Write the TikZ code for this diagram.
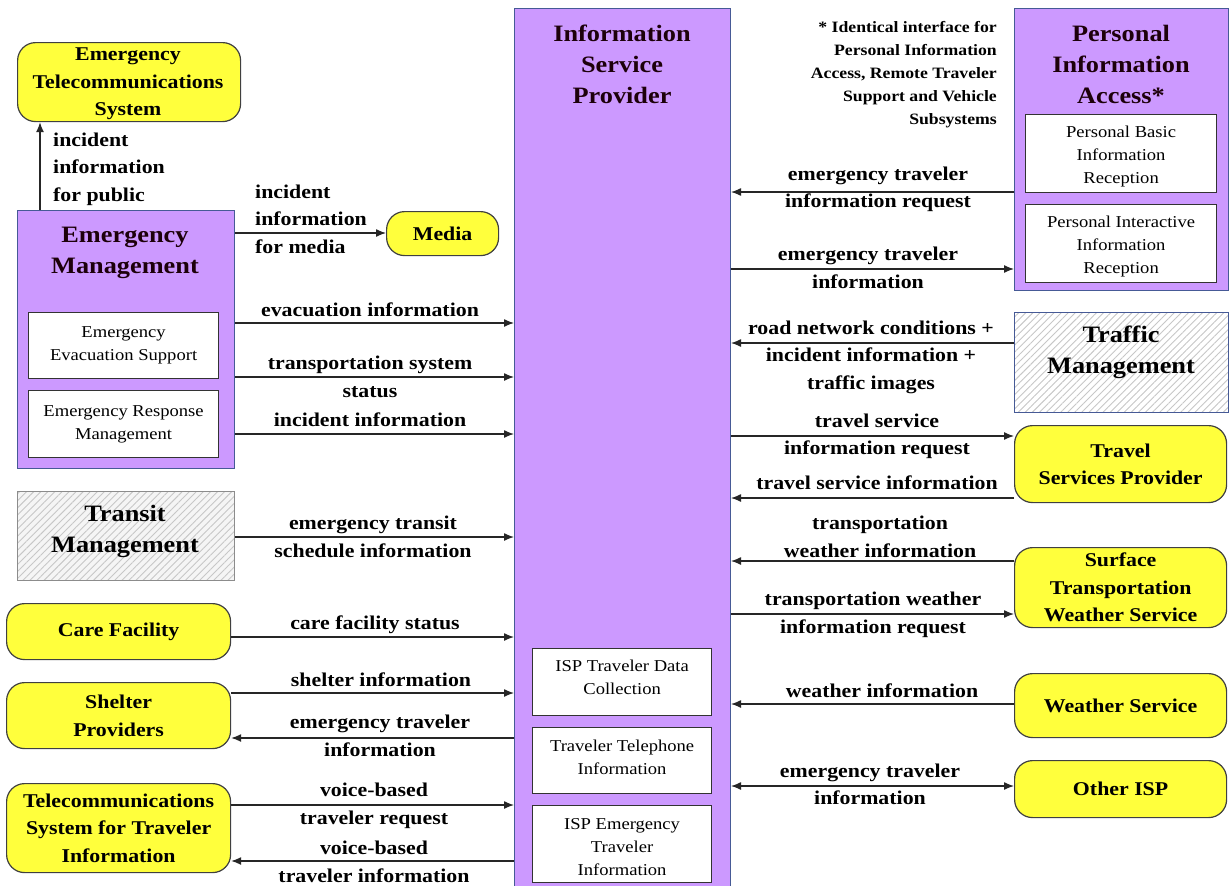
\documentclass[tikz,border=0pt]{standalone}
\usepackage{fontspec}
\setmainfont{Liberation Serif}[FakeStretch=1.12]
\usetikzlibrary{arrows.meta,patterns.meta}
\definecolor{purp}{RGB}{204,153,255}
\definecolor{yel}{RGB}{255,255,60}
\definecolor{bordblue}{RGB}{70,90,150}
\begin{document}
\begin{tikzpicture}[x=1pt,y=-1pt,
  lab/.style={font=\fontsize{19.5}{27.5}\selectfont\bfseries,align=center,inner sep=0pt},
  labl/.style={font=\fontsize{19.5}{27.5}\selectfont\bfseries,align=left,inner sep=0pt,anchor=west},
  ttl/.style={font=\fontsize{23.5}{31}\selectfont\bfseries,align=center,inner sep=0pt,text=black!85!purple},
  small/.style={font=\fontsize{16.6}{23}\selectfont,align=center,inner sep=0pt},
  note/.style={font=\fontsize{15.8}{23}\selectfont\bfseries,align=right,inner sep=0pt,anchor=east},
  pbox/.style={draw=bordblue,line width=1pt,fill=purp,inner sep=0pt,anchor=north west},
  wbox/.style={draw=black!80,line width=1.2pt,fill=white,inner sep=0pt,anchor=north west},
  ybox/.style={draw=black!75,line width=1.2pt,fill=yel,rounded corners=18pt,inner sep=0pt,anchor=north west,font=\fontsize{19.5}{27.5}\selectfont\bfseries,align=center},
  hbox/.style={line width=1.2pt,inner sep=0pt,anchor=north west,pattern={Lines[angle=45,distance=5pt,line width=0.9pt]},pattern color=black!22},
  arr/.style={line width=1.3pt,draw=black!85,-{Latex[length=10pt,width=8pt]}},
  darr/.style={line width=1.3pt,draw=black!85,{Latex[length=10pt,width=8pt]}-{Latex[length=10pt,width=8pt]}}
]
\useasboundingbox (0,0) rectangle (1229,886);
\fill[white] (0,0) rectangle (1229,886);

% ---------- Information Service Provider ----------
\node[pbox,minimum width=216pt,minimum height=890pt] (ISP) at (514,8) {};
\node[ttl] (ISPt) at (622,64) {Information\\Service\\Provider};
\node[wbox,minimum width=179pt,minimum height=67pt] (ISP1) at (532,648) {};
\node[small] at ([yshift=5pt]ISP1.center) {ISP Traveler Data\\Collection};
\node[wbox,minimum width=179pt,minimum height=66pt] (ISP2) at (532,727) {};
\node[small] at ([yshift=3pt]ISP2.center) {Traveler Telephone\\Information};
\node[wbox,minimum width=179pt,minimum height=77pt] (ISP3) at (532,805) {};
\node[small] at ([yshift=-3pt]ISP3.center) {ISP Emergency\\Traveler\\Information};

% ---------- Left side ----------
\node[ybox,minimum width=223pt,minimum height=79pt] (ETS) at (17,42) {};
\node[lab] at (128,84) {Emergency\\Telecommunications\\System};

\node[pbox,minimum width=217pt,minimum height=258pt] (EM) at (17,210) {};
\node[ttl] (EMt) at (125,253) {Emergency\\Management};
\node[wbox,minimum width=190pt,minimum height=66pt] (EES) at (28,312) {};
\node[small] at (EES.center) {Emergency\\Evacuation Support};
\node[wbox,minimum width=190pt,minimum height=67pt] (ERM) at (28,390) {};
\node[small] at (ERM.center) {Emergency Response\\Management};

\node[ybox,minimum width=112pt,minimum height=44pt] (Media) at (386,211) {Media};

\node[hbox,draw=black!45,preaction={fill=black!4},minimum width=217pt,minimum height=89pt] (TM) at (17,491) {};
\node[ttl,text=black] at (125,531) {Transit\\Management};

\node[ybox,minimum width=224pt,minimum height=56pt] (CF) at (6,603) {Care Facility};
\node[ybox,minimum width=224pt,minimum height=66pt] (SP) at (6,682) {Shelter\\Providers};
\node[ybox,minimum width=224pt,minimum height=89pt] (TS) at (6,783) {Telecommunications\\System for Traveler\\Information};

% ---------- Right side ----------
\node[note] (NT) at (997,75) {* Identical interface for\\Personal Information\\Access, Remote Traveler\\Support and Vehicle\\Subsystems};

\node[pbox,minimum width=214pt,minimum height=282pt] (PIA) at (1014,8) {};
\node[ttl] (PIAt) at (1121,64) {Personal\\Information\\Access*};
\node[wbox,minimum width=191pt,minimum height=78pt] (PB) at (1025,114) {};
\node[small] at ([yshift=-3pt]PB.center) {Personal Basic\\Information\\Reception};
\node[wbox,minimum width=191pt,minimum height=78pt] (PI) at (1025,204) {};
\node[small] at ([yshift=-3pt]PI.center) {Personal Interactive\\Information\\Reception};

\node[hbox,draw=bordblue,preaction={fill=white},minimum width=214pt,minimum height=100pt] (TRM) at (1014,312) {};
\node[ttl,text=black] at (1121,352) {Traffic\\Management};

\node[ybox,minimum width=212pt,minimum height=77pt] (TSP) at (1014,425) {Travel\\Services Provider};
\node[ybox,minimum width=212pt,minimum height=80pt] (STW) at (1014,547) {Surface\\Transportation\\Weather Service};
\node[ybox,minimum width=212pt,minimum height=64pt] (WS) at (1014,673) {Weather Service};
\node[ybox,minimum width=212pt,minimum height=57pt] (OI) at (1014,760) {Other ISP};

% ---------- Connectors left ----------
\draw[arr] (EM.north -| 40,0) -- (ETS.south -| 40,0);
\node[labl] at (53,169) {incident\\information\\for public};
\draw[arr] (EM.east |- 0,233) -- (Media.west |- 0,233);
\node[labl] at (255,219) {incident\\information\\for media};

\draw[arr] (EM.east |- 0,323) -- (ISP.west |- 0,323);
\node[lab] at (370,310) {evacuation information};
\draw[arr] (EM.east |- 0,377) -- (ISP.west |- 0,377);
\node[lab] at (370,377) {transportation system\\status};
\draw[arr] (EM.east |- 0,434) -- (ISP.west |- 0,434);
\node[lab] at (370,420) {incident information};

\draw[arr] (TM.east |- 0,537) -- (ISP.west |- 0,537);
\node[lab] at (373,537) {emergency transit\\schedule information};

\draw[arr] (CF.east |- 0,637) -- (ISP.west |- 0,637);
\node[lab] at (375,625) {care facility status};

\draw[arr] (SP.east |- 0,693) -- (ISP.west |- 0,693);
\node[lab] at (381,680) {shelter information};
\draw[arr] (ISP.west |- 0,738) -- (SP.east |- 0,738);
\node[lab] at (380,736) {emergency traveler\\information};

\draw[arr] (TS.east |- 0,805) -- (ISP.west |- 0,805);
\node[lab] at (374,806) {voice-based\\traveler request};
\draw[arr] (ISP.west |- 0,861) -- (TS.east |- 0,861);
\node[lab] at (374,862) {voice-based\\traveler information};

% ---------- Connectors right ----------
\draw[arr] (PIA.west |- 0,192) -- (ISP.east |- 0,192);
\node[lab] at (878,189.5) {emergency traveler\\information request};
\draw[arr] (ISP.east |- 0,269) -- (PIA.west |- 0,269);
\node[lab] at (868,268) {emergency traveler\\information};

\draw[arr] (TRM.west |- 0,343) -- (ISP.east |- 0,343);
\node[lab] at (871,357) {road network conditions +\\incident information +\\traffic images};

\draw[arr] (ISP.east |- 0,436) -- (TSP.west |- 0,436);
\node[lab] at (877,436.5) {travel service\\information request};
\draw[arr] (TSP.west |- 0,498) -- (ISP.east |- 0,498);
\node[lab] at (877,483) {travel service information};

\draw[arr] (STW.west |- 0,561) -- (ISP.east |- 0,561);
\node[lab] at (880,537) {transportation\\weather information};
\draw[arr] (ISP.east |- 0,614) -- (STW.west |- 0,614);
\node[lab] at (873,615) {transportation weather\\information request};

\draw[arr] (WS.west |- 0,704) -- (ISP.east |- 0,704);
\node[lab] at (882,691) {weather information};
\draw[darr] (ISP.east |- 0,786) -- (OI.west |- 0,786);
\node[lab] at (870,784.5) {emergency traveler\\information};
\end{tikzpicture}
\end{document}
